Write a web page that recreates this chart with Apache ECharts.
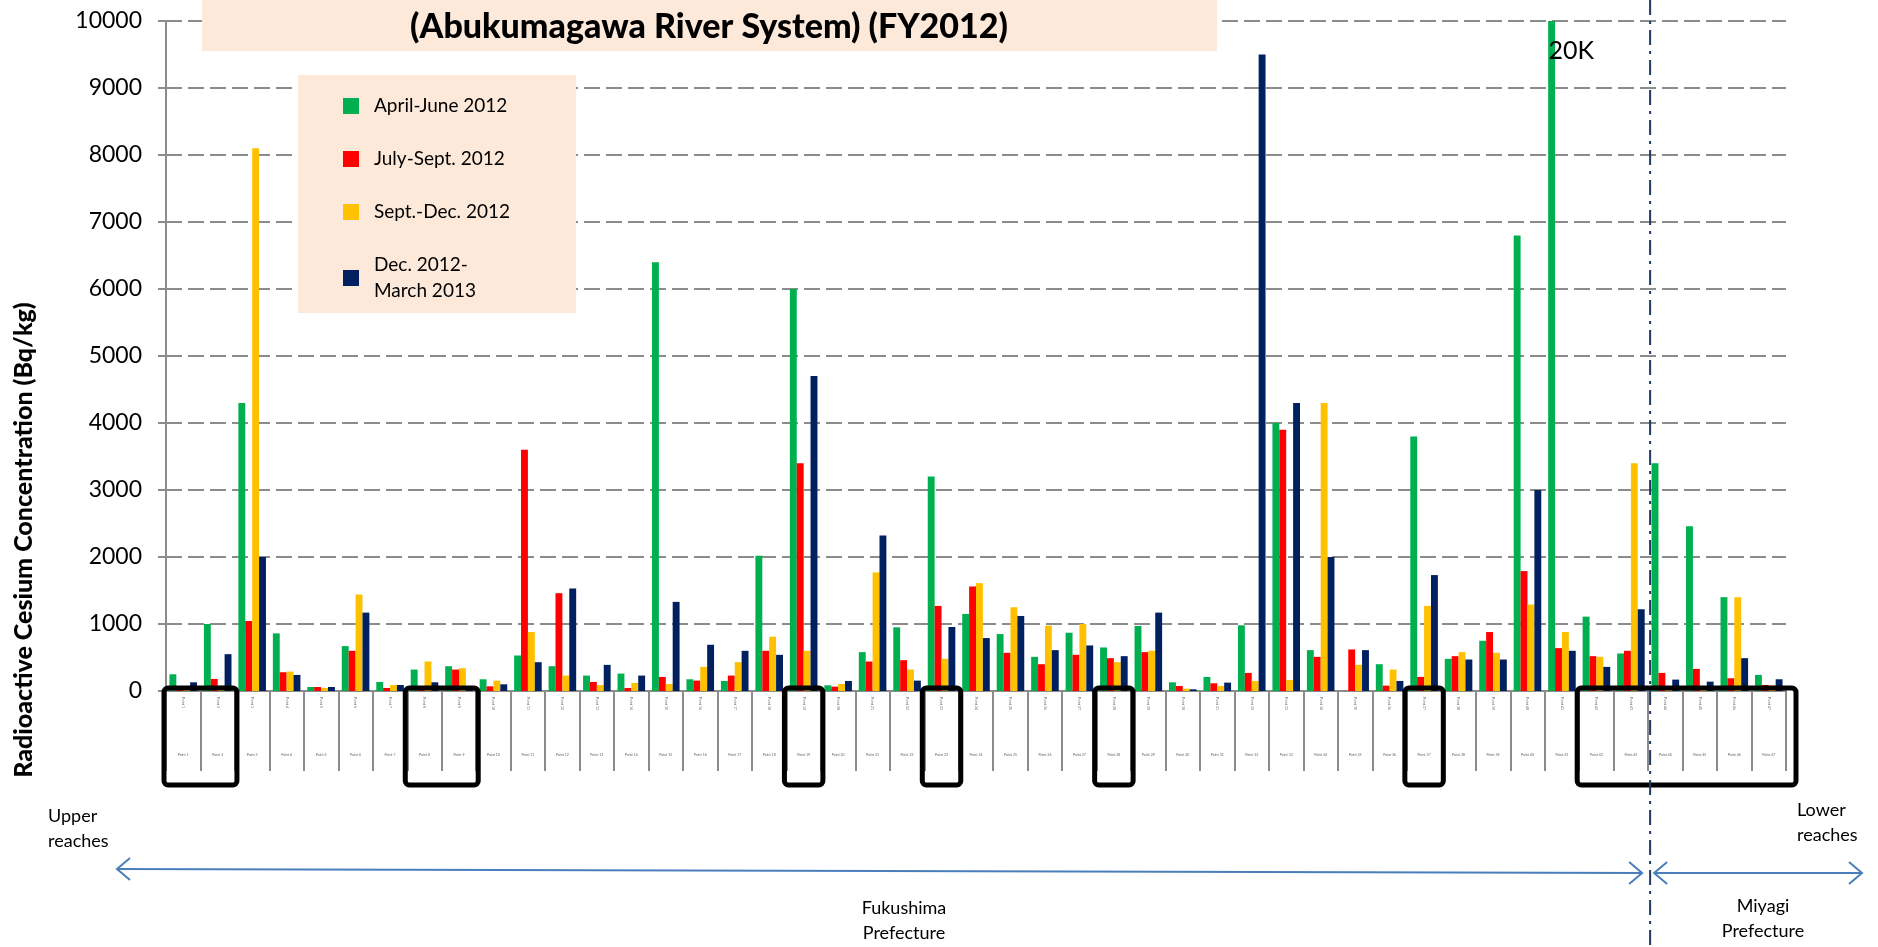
<!DOCTYPE html>
<html>
<head>
<meta charset="utf-8">
<script src="https://cdn.jsdelivr.net/npm/echarts@6/dist/echarts.min.js"></script>
<style>
html,body{margin:0;padding:0;background:#fff;}
#c{width:1878px;height:947px;}
</style>
</head>
<body>
<div id="c"></div>
<script>
// ---------------- data ----------------
const categories = Array.from({length: 47}, (_, i) => 'Point ' + (i + 1));
const seriesNames = ['April-June 2012', 'July-Sept. 2012', 'Sept.-Dec. 2012', 'Dec. 2012-\nMarch 2013'];
const aprJun2012 = [250,1000,4300,860,60,670,135,320,370,175,530,370,230,260,6400,175,150,2020,6000,85,580,950,3200,1150,850,510,870,650,970,130,210,980,4000,610,null,400,3800,480,750,6800,20000,1110,560,3400,2460,1400,240];
const julSep2012 = [30,180,1045,280,60,600,45,75,320,70,3600,1460,135,45,210,155,230,600,3400,65,440,460,1270,1560,570,400,540,490,580,75,115,270,3900,510,620,80,210,520,880,1790,640,520,600,270,330,190,90];
const sepDec2012 = [40,80,8100,290,45,1440,90,440,340,155,880,230,90,120,105,360,430,810,600,105,1770,320,480,1610,1250,975,1000,430,600,35,75,150,165,4300,390,320,1270,580,570,1290,880,510,3400,75,50,1400,80];
const decMar2013 = [130,550,2000,240,60,1170,90,130,60,100,430,1530,390,230,1330,690,600,540,4700,150,2320,155,955,790,1120,610,680,520,1170,25,125,9500,4300,2000,610,150,1730,470,470,3000,600,360,1220,170,140,490,175];
const yMin = 0, yMax = 10000, yInterval = 1000;
const offScaleLabel = '20K';          // value drawn past the axis top
const offScaleIndex = 40;
const highlightGroups = [[0,1],[7,8],[18,18],[22,22],[27,27],[36,36],[41,46]];
const prefectureSplitAfter = 42;      // boundary between Fukushima and Miyagi
const colors = ['#00B050', '#FF0000', '#FFC000', '#002060'];
const titleText = '(Abukumagawa River System) (FY2012)';
const yName = 'Radioactive Cesium Concentration (Bq/kg)';

const FONT = 'Lato';
const chart = echarts.init(document.getElementById('c'), null, {renderer: 'canvas'});

const seriesData = [aprJun2012, julSep2012, sepDec2012, decMar2013];
const series = seriesData.map((d, k) => {
  const s = {
    name: seriesNames[k], type: 'bar', data: d, xAxisIndex: 0, yAxisIndex: 0,
    barGap: '0%', barCategoryGap: '20%', clip: true,
    itemStyle: {color: colors[k]}
  };
  if (k === 0) {
    s.markPoint = {
      symbol: 'circle', symbolSize: 0, silent: true,
      data: [{coord: [categories[offScaleIndex], 9580], value: offScaleLabel}],
      label: {show: true, position: 'right', distance: 0, offset: [-3, 2],
              formatter: '{c}', fontFamily: FONT, fontSize: 25, color: '#000'}
    };
  }
  return s;
});

const option = {
  animation: false,
  backgroundColor: '#fff',
  textStyle: {fontFamily: FONT},
  grid: {left: 166, right: 92, top: 21, bottom: 256, containLabel: false},
  legend: {
    orient: 'vertical', left: 338, top: 88, itemWidth: 16, itemHeight: 16, itemGap: 27,
    icon: 'rect', selectedMode: false, z: 20,
    data: seriesNames,
    textStyle: {fontFamily: FONT, fontSize: 19, color: '#000', lineHeight: 26, padding: [0, 0, 0, 10]}
  },
  xAxis: [{
    type: 'category', data: categories, boundaryGap: true, position: 'bottom',
    axisLine: {show: true, lineStyle: {color: '#8c8c8c', width: 2}},
    axisTick: {show: true, interval: 0, length: 80, lineStyle: {color: '#8c8c8c', width: 2}},
    axisLabel: {show: true, interval: 0, margin: 62, fontSize: 3.5, color: '#666', fontFamily: FONT},
    splitLine: {show: false}
  }, {
    type: 'category', data: categories, boundaryGap: true, position: 'bottom',
    axisLine: {show: false}, axisTick: {show: false},
    axisLabel: {show: true, interval: 0, rotate: -90, margin: 6, fontSize: 3.5, color: '#666', fontFamily: FONT},
    splitLine: {show: false}
  }],
  yAxis: {
    type: 'value', min: yMin, max: yMax, interval: yInterval,
    axisLine: {show: true, lineStyle: {color: '#8c8c8c', width: 2}},
    axisTick: {show: true, length: 8, lineStyle: {color: '#8c8c8c', width: 2}},
    axisLabel: {fontFamily: FONT, fontSize: 23, color: '#000', margin: 24, formatter: v => String(v)},
    splitLine: {show: true, lineStyle: {color: '#8c8c8c', width: 2, type: [16, 6]}}
  },
  series: series
};
chart.setOption(option);

// ------------- annotations placed from the axes' own scales -------------
const y0 = chart.convertToPixel({yAxisIndex: 0}, 0);
const xs = categories.map(c => chart.convertToPixel({xAxisIndex: 0}, c));
const bw = xs[1] - xs[0];
const leftOf = i => xs[i] - bw / 2;
const rightOf = i => xs[i] + bw / 2;
const divX = rightOf(prefectureSplitAfter) + 2;
const arrowColor = '#4A7EBB';

const graphic = [];
// title band
graphic.push({type: 'rect', z: 1, shape: {x: 202, y: -2, width: 1015, height: 53}, style: {fill: '#FDE9D9'}});
graphic.push({type: 'text', z: 30, x: 709, y: 27, style: {text: titleText, fill: '#000', font: '900 34px ' + FONT, textAlign: 'center', textVerticalAlign: 'middle'}});
// legend background
graphic.push({type: 'rect', z: 1, shape: {x: 298, y: 75, width: 278, height: 238}, style: {fill: '#FDE9D9'}});
// y axis name
graphic.push({type: 'text', z: 30, x: 24, y: 540, rotation: Math.PI / 2,
  style: {text: yName, fill: '#000', font: '900 25px ' + FONT, textAlign: 'center', textVerticalAlign: 'middle'}});
// highlight boxes
highlightGroups.forEach((g, k) => {
  const extraR = (k === highlightGroups.length - 1) ? 10 : 2;
  const x1 = leftOf(g[0]) - 2, x2 = rightOf(g[1]) + extraR;
  graphic.push({type: 'rect', z: 40, shape: {x: x1, y: y0 - 3, width: x2 - x1, height: 97, r: 4},
    style: {fill: null, stroke: '#000', lineWidth: 5}});
});
// prefecture divider
graphic.push({type: 'line', z: 41, shape: {x1: divX, y1: 0, x2: divX, y2: 947},
  style: {stroke: '#203864', lineWidth: 2, lineDash: [15, 6, 3, 6]}});
// arrows
function arrow(xa, ya, xb, yb) {
  graphic.push({type: 'line', z: 30, shape: {x1: xa, y1: ya, x2: xb, y2: yb}, style: {stroke: arrowColor, lineWidth: 2}});
  graphic.push({type: 'polyline', z: 30, shape: {points: [[xa + 13, ya - 11], [xa, ya], [xa + 13, ya + 11]]}, style: {stroke: arrowColor, lineWidth: 2, fill: null}});
  graphic.push({type: 'polyline', z: 30, shape: {points: [[xb - 13, yb - 11], [xb, yb], [xb - 13, yb + 11]]}, style: {stroke: arrowColor, lineWidth: 2, fill: null}});
}
arrow(117, 869, divX - 8, 873);
arrow(divX + 4, 873, 1862, 873);
// reach / prefecture texts
function txt(t, x, y, align) {
  graphic.push({type: 'text', z: 30, x: x, y: y, style: {text: t, fill: '#000', font: '18px ' + FONT, textAlign: align, textVerticalAlign: 'middle', lineHeight: 25}});
}
txt('Upper\nreaches', 48, 829, 'left');
txt('Lower\nreaches', 1797, 823, 'left');
txt('Fukushima\nPrefecture', 904, 921, 'center');
txt('Miyagi\nPrefecture', 1763, 919, 'center');

chart.setOption({graphic: graphic});
</script>
</body>
</html>
